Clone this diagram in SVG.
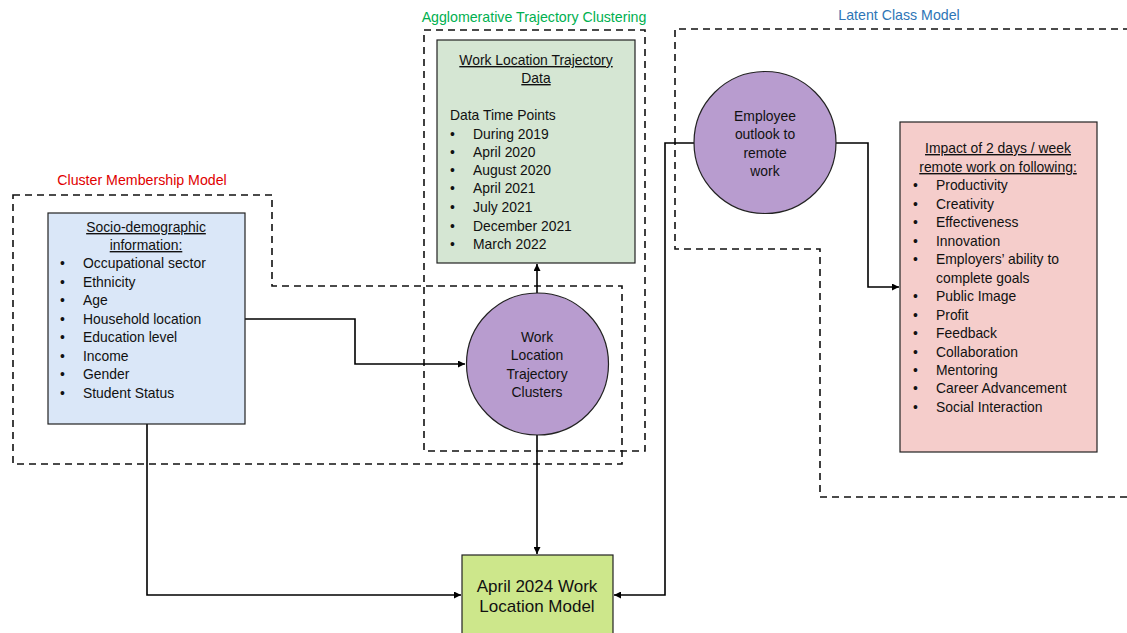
<svg xmlns="http://www.w3.org/2000/svg" width="1127" height="633" viewBox="0 0 1127 633">
  <style>
    text { font-family: "Liberation Sans", Arial, sans-serif; font-size: 13.9px; fill: #111; }
    .c { text-anchor: middle; }
    .u { text-decoration: underline; }
    .region { fill: none; stroke: #111; stroke-width: 1.6; stroke-dasharray: 7 5; }
    .box { stroke: #222; stroke-width: 1.2; }
    .edge { fill: none; stroke: #000; stroke-width: 1.6; }
    .lbl { font-size: 14.2px; text-anchor: middle; }
  </style>
  <defs>
    <marker id="arrow" viewBox="0 0 10 10" refX="10" refY="5" markerWidth="7" markerHeight="7" orient="auto" markerUnits="userSpaceOnUse">
      <path d="M0,0 L10,5 L0,10 z" fill="#000"/>
    </marker>
  </defs>
  <rect width="1127" height="633" fill="#fff"/>

  <!-- dashed model regions -->
  <g id="regions">
    <path class="region" d="M13,195 H272 V286 H622 V464 H13 Z"/>
    <rect class="region" x="424" y="30" width="221" height="421"/>
    <path class="region" d="M1130,29 H675 V249 H820 V497 H1130"/>
    <text class="lbl" x="142" y="185" style="fill:#E00000">Cluster Membership Model</text>
    <text class="lbl" x="534" y="22" style="fill:#00B050">Agglomerative Trajectory Clustering</text>
    <text class="lbl" x="899" y="20" style="fill:#2E75B6">Latent Class Model</text>
  </g>

  <!-- connectors -->
  <g id="connectors">
    <path class="edge" d="M245,319 H355 V364 H465" marker-end="url(#arrow)"/>
    <path class="edge" d="M537,293 V264" marker-end="url(#arrow)"/>
    <path class="edge" d="M537,435 V554" marker-end="url(#arrow)"/>
    <path class="edge" d="M147,424 V595 H461" marker-end="url(#arrow)"/>
    <path class="edge" d="M694,143 H665 V595 H614" marker-end="url(#arrow)"/>
    <path class="edge" d="M836,143 H868 V287 H899" marker-end="url(#arrow)"/>
  </g>

  <!-- socio-demographic information -->
  <g id="socio">
    <rect class="box" x="48" y="213" width="197" height="211" fill="#DAE7F8"/>
    <text class="c u" x="146" y="232">Socio-demographic</text>
    <text class="c u" x="146" y="250">information:</text>
    <g>
      <text x="60" y="268">•</text><text x="83" y="268">Occupational sector</text>
      <text x="60" y="287">•</text><text x="83" y="287">Ethnicity</text>
      <text x="60" y="305">•</text><text x="83" y="305">Age</text>
      <text x="60" y="324">•</text><text x="83" y="324">Household location</text>
      <text x="60" y="342">•</text><text x="83" y="342">Education level</text>
      <text x="60" y="361">•</text><text x="83" y="361">Income</text>
      <text x="60" y="379">•</text><text x="83" y="379">Gender</text>
      <text x="60" y="398">•</text><text x="83" y="398">Student Status</text>
    </g>
  </g>

  <!-- trajectory data -->
  <g id="trajectory-data">
    <rect class="box" x="437" y="40" width="198" height="223" fill="#D5E6D3"/>
    <text class="c u" x="536" y="65">Work Location Trajectory</text>
    <text class="c u" x="536" y="83">Data</text>
    <text x="450" y="120">Data Time Points</text>
    <text x="450" y="139">•</text><text x="473" y="139">During 2019</text>
    <text x="450" y="157">•</text><text x="473" y="157">April 2020</text>
    <text x="450" y="175">•</text><text x="473" y="175">August 2020</text>
    <text x="450" y="193">•</text><text x="473" y="193">April 2021</text>
    <text x="450" y="212">•</text><text x="473" y="212">July 2021</text>
    <text x="450" y="231">•</text><text x="473" y="231">December 2021</text>
    <text x="450" y="249">•</text><text x="473" y="249">March 2022</text>
  </g>

  <!-- trajectory clusters -->
  <g id="clusters">
    <circle cx="537.5" cy="364" r="71" fill="#B89CCF" stroke="#222" stroke-width="1.2"/>
    <text class="c" x="537" y="342">Work</text>
    <text class="c" x="537" y="360">Location</text>
    <text class="c" x="537" y="379">Trajectory</text>
    <text class="c" x="537" y="397">Clusters</text>
  </g>

  <!-- employee outlook -->
  <g id="outlook">
    <circle cx="765" cy="142.5" r="71" fill="#B89CCF" stroke="#222" stroke-width="1.2"/>
    <text class="c" x="765" y="121">Employee</text>
    <text class="c" x="765" y="139">outlook to</text>
    <text class="c" x="765" y="158">remote</text>
    <text class="c" x="765" y="176">work</text>
  </g>

  <!-- impact list -->
  <g id="impact">
    <rect class="box" x="900" y="122" width="197" height="330" fill="#F5CDCB"/>
    <text class="c u" x="998" y="153">Impact of 2 days / week</text>
    <text class="c u" x="998" y="172">remote work on following:</text>
    <text x="913" y="190">•</text><text x="936" y="190">Productivity</text>
    <text x="913" y="209">•</text><text x="936" y="209">Creativity</text>
    <text x="913" y="227">•</text><text x="936" y="227">Effectiveness</text>
    <text x="913" y="246">•</text><text x="936" y="246">Innovation</text>
    <text x="913" y="264">•</text><text x="936" y="264">Employers’ ability to</text>
    <text x="936" y="283">complete goals</text>
    <text x="913" y="301">•</text><text x="936" y="301">Public Image</text>
    <text x="913" y="320">•</text><text x="936" y="320">Profit</text>
    <text x="913" y="338">•</text><text x="936" y="338">Feedback</text>
    <text x="913" y="357">•</text><text x="936" y="357">Collaboration</text>
    <text x="913" y="375">•</text><text x="936" y="375">Mentoring</text>
    <text x="913" y="393">•</text><text x="936" y="393">Career Advancement</text>
    <text x="913" y="412">•</text><text x="936" y="412">Social Interaction</text>
  </g>

  <!-- final model -->
  <g id="final-model">
    <rect class="box" x="462" y="555" width="151" height="90" fill="#CDE78B"/>
    <text class="c" x="537" y="592" style="font-size:17px">April 2024 Work</text>
    <text class="c" x="537" y="612" style="font-size:17px">Location Model</text>
  </g>
</svg>
